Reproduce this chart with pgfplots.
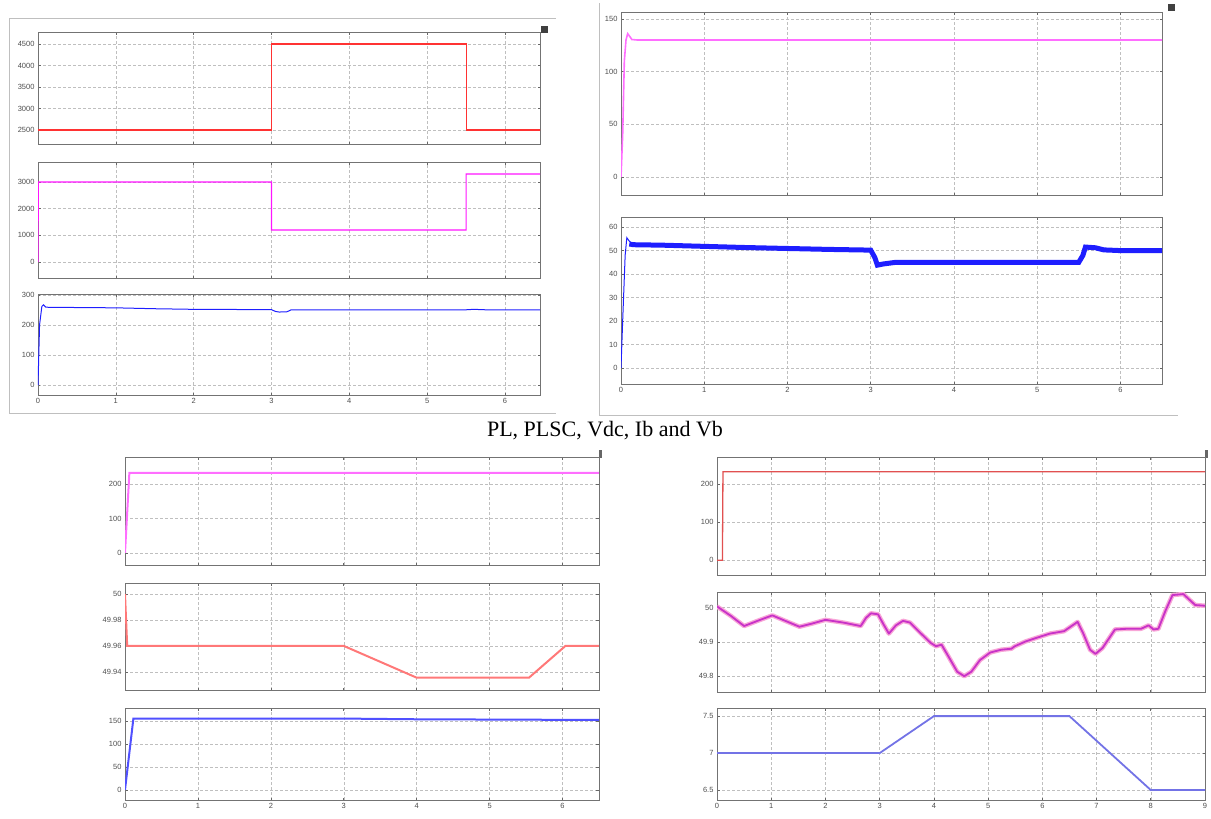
\documentclass[border=0pt]{standalone}
\usepackage{pgfplots}
\pgfplotsset{compat=1.18}
\usepackage{fontspec}
\setmainfont{Liberation Serif}
\newfontfamily\tickfont{Liberation Sans}
\definecolor{cRed}{RGB}{255,50,50}
\definecolor{cMag}{RGB}{255,20,255}
\definecolor{cMagL}{RGB}{255,110,255}
\definecolor{cBlue}{RGB}{30,30,255}
\definecolor{cRedL}{RGB}{255,120,120}
\definecolor{cBlueL}{RGB}{80,80,255}
\definecolor{cRedB}{RGB}{225,80,80}
\definecolor{cMagD}{RGB}{200,50,200}
\definecolor{cViol}{RGB}{115,115,230}
\pgfplotsset{
  scopeax/.style={
    scale only axis, anchor=north west,
    axis line style={black!55, line width=0.8pt},
    grid=major, grid style={black!25, densely dashed, line width=0.4pt},
    tick align=inside, major tick length=2.5pt,
    tick style={black!60, line width=0.6pt},
    ticklabel style={font=\tickfont\fontsize{7.5}{8}\selectfont, text=black!70},
    /pgf/number format/assume math mode=true,
    /pgf/number format/1000 sep={},
    xmin=0, clip=true,
  },
  tlax/.style={scopeax, xmax=6.45, width=502pt, xtick={0,1,...,6}},
  trax/.style={scopeax, xmax=6.5, width=541pt, xtick={0,1,...,6}},
  blax/.style={scopeax, xmax=6.5, width=474pt, xtick={0,1,...,6}},
  brax/.style={scopeax, xmax=9, width=488pt, xtick={0,1,...,9}},
}
\begin{document}
\begin{tikzpicture}
\useasboundingbox (0,0) rectangle (1211pt,-819pt);
% group frames
\draw[black!25, line width=0.8pt] (9pt,-18pt) -- (9pt,-413pt) -- (556pt,-413pt);
\draw[black!25, line width=0.8pt] (9pt,-18pt) -- (556pt,-18pt);
\draw[black!25, line width=0.8pt] (599pt,-3pt) -- (599pt,-415pt) -- (1178pt,-415pt);
\fill[black!75] (541pt,-26pt) rectangle (548pt,-33pt);
\fill[black!75] (1168pt,-4pt) rectangle (1175pt,-11pt);
\fill[black!60] (599pt,-450pt) rectangle (602pt,-458pt);
\fill[black!60] (1205pt,-450pt) rectangle (1208pt,-458pt);

% ---------- top left ----------
\begin{axis}[tlax, at={(38pt,-32pt)}, height=112pt, ymin=2174, ymax=4779,
  ytick={2500,3000,3500,4000,4500}, xticklabels={}]
\addplot[cRed, line width=1.1pt] coordinates {(0,2500) (3,2500) (3,4500) (5.5,4500) (5.5,2500) (6.5,2500)};
\end{axis}
\begin{axis}[tlax, at={(38pt,-162pt)}, height=116pt, ymin=-600, ymax=3750,
  ytick={0,1000,2000,3000}, xticklabels={}]
\addplot[cMag, line width=1.1pt] coordinates {(0,0) (0.005,3000) (3,3000) (3,1200) (5.5,1200) (5.5,3300) (6.5,3300)};
\end{axis}
\begin{axis}[tlax, at={(38pt,-294pt)}, height=101pt, ymin=-33, ymax=303,
  ytick={0,100,200,300}]
\addplot[cBlue, line width=1pt] coordinates {(0,0) (0.02,200) (0.05,262) (0.07,267) (0.1,259) (0.5,258) (1,257) (1.5,254) (2,252) (3,251) (3.05,245) (3.1,243) (3.2,244) (3.25,250) (4,250) (5,250) (5.5,250.5) (5.6,252) (5.8,250) (6.5,250)};
\end{axis}

% ---------- top right ----------
\begin{axis}[trax, at={(621pt,-12pt)}, height=183pt, ymin=-17, ymax=156.6,
  ytick={0,50,100,150}, xticklabels={}]
\addplot[cMagL, line width=1.6pt] coordinates {(0,0) (0.02,40) (0.04,110) (0.06,130) (0.08,136) (0.1,134) (0.13,130.5) (0.2,130) (6.5,130)};
\end{axis}
\begin{axis}[trax, at={(621pt,-217pt)}, height=167pt, ymin=-6.8, ymax=64.3,
  ytick={0,10,...,60}]
\addplot[cBlue, line width=1pt] coordinates {(0,0) (0.02,20) (0.05,48) (0.07,55.5) (0.1,54) (0.15,52.5)};
\addplot[cBlue, line width=5pt] coordinates {(0.1,52.8) (0.15,52.5) (0.5,52.3) (1,51.8) (1.5,51.3) (2,50.9) (2.5,50.5) (3.0,50.2) (3.05,47) (3.08,43.8) (3.15,44.3) (3.3,45) (4,45) (5,45) (5.5,45) (5.55,48) (5.58,51.5) (5.7,51.2) (5.8,50.3) (6.0,50) (6.5,50)};
\end{axis}

\node[font=\fontsize{22}{26}\selectfont] at (605pt,-431pt) {PL, PLSC, Vdc, Ib and Vb};

% ---------- bottom left ----------
\begin{axis}[blax, at={(125pt,-457pt)}, height=108pt, ymin=-35, ymax=278,
  ytick={0,100,200}, xticklabels={}]
\addplot[cMagL, line width=2pt] coordinates {(0,0) (0.06,232) (6.5,232)};
\end{axis}
\begin{axis}[blax, at={(125pt,-583pt)}, height=107pt, ymin=49.926, ymax=50.0085,
  ytick={49.94,49.96,49.98,50}, xticklabels={},
  yticklabel style={/pgf/number format/fixed, /pgf/number format/precision=2}]
\addplot[cRedL, line width=2pt] coordinates {(0,50) (0.03,49.96) (3,49.96) (4,49.9355) (5.54,49.9355) (6.04,49.96) (6.5,49.96)};
\end{axis}
\begin{axis}[blax, at={(125pt,-708pt)}, height=92pt, ymin=-22, ymax=178,
  ytick={0,50,100,150}]
\addplot[cBlueL, line width=2pt] coordinates {(0,0) (0.115,155) (3,155) (4,153.5) (6.5,152)};
\end{axis}

% ---------- bottom right ----------
\begin{axis}[brax, at={(717pt,-457pt)}, height=118pt, ymin=-39, ymax=271,
  ytick={0,100,200}, xticklabels={}]
\addplot[cRedB, line width=1.3pt] coordinates {(0,0) (0.1,0) (0.11,232) (9,232)};
\end{axis}
\begin{axis}[brax, at={(717pt,-592pt)}, height=100pt, ymin=49.754, ymax=50.045,
  ytick={49.8,49.9,50}, xticklabels={},
  yticklabel style={/pgf/number format/fixed, /pgf/number format/precision=1}]
\pgfplotstableread{
x y
0 50.003
0.26 49.975
0.5 49.946
0.78 49.963
1.02 49.977
1.26 49.961
1.52 49.944
1.75 49.953
2.0 49.964
2.33 49.956
2.65 49.946
2.75 49.970
2.84 49.983
2.97 49.980
3.07 49.951
3.17 49.924
3.3 49.948
3.43 49.961
3.56 49.956
3.75 49.926
3.94 49.897
4.04 49.887
4.14 49.892
4.27 49.857
4.43 49.813
4.56 49.800
4.69 49.813
4.85 49.847
5.04 49.869
5.24 49.877
5.43 49.880
5.49 49.887
5.69 49.901
5.88 49.911
6.14 49.924
6.4 49.931
6.65 49.958
6.75 49.926
6.88 49.877
6.98 49.865
7.11 49.882
7.34 49.936
7.56 49.938
7.82 49.938
7.96 49.948
8.05 49.936
8.14 49.938
8.27 49.990
8.40 50.036
8.6 50.039
8.82 50.007
9.0 50.005
}\freqtab
\addplot[magenta!35, line width=4.5pt, line join=round] table[x=x,y=y] {\freqtab};
\addplot[cMagD, line width=1.8pt, line join=round] table[x=x,y=y] {\freqtab};
\end{axis}
\begin{axis}[brax, at={(717pt,-708pt)}, height=92pt, ymin=6.365, ymax=7.61,
  ytick={6.5,7,7.5}]
\addplot[cViol, line width=1.8pt] coordinates {(0,7) (3,7) (4,7.5) (6.5,7.5) (8,6.5) (9,6.5)};
\end{axis}
\end{tikzpicture}
\end{document}
